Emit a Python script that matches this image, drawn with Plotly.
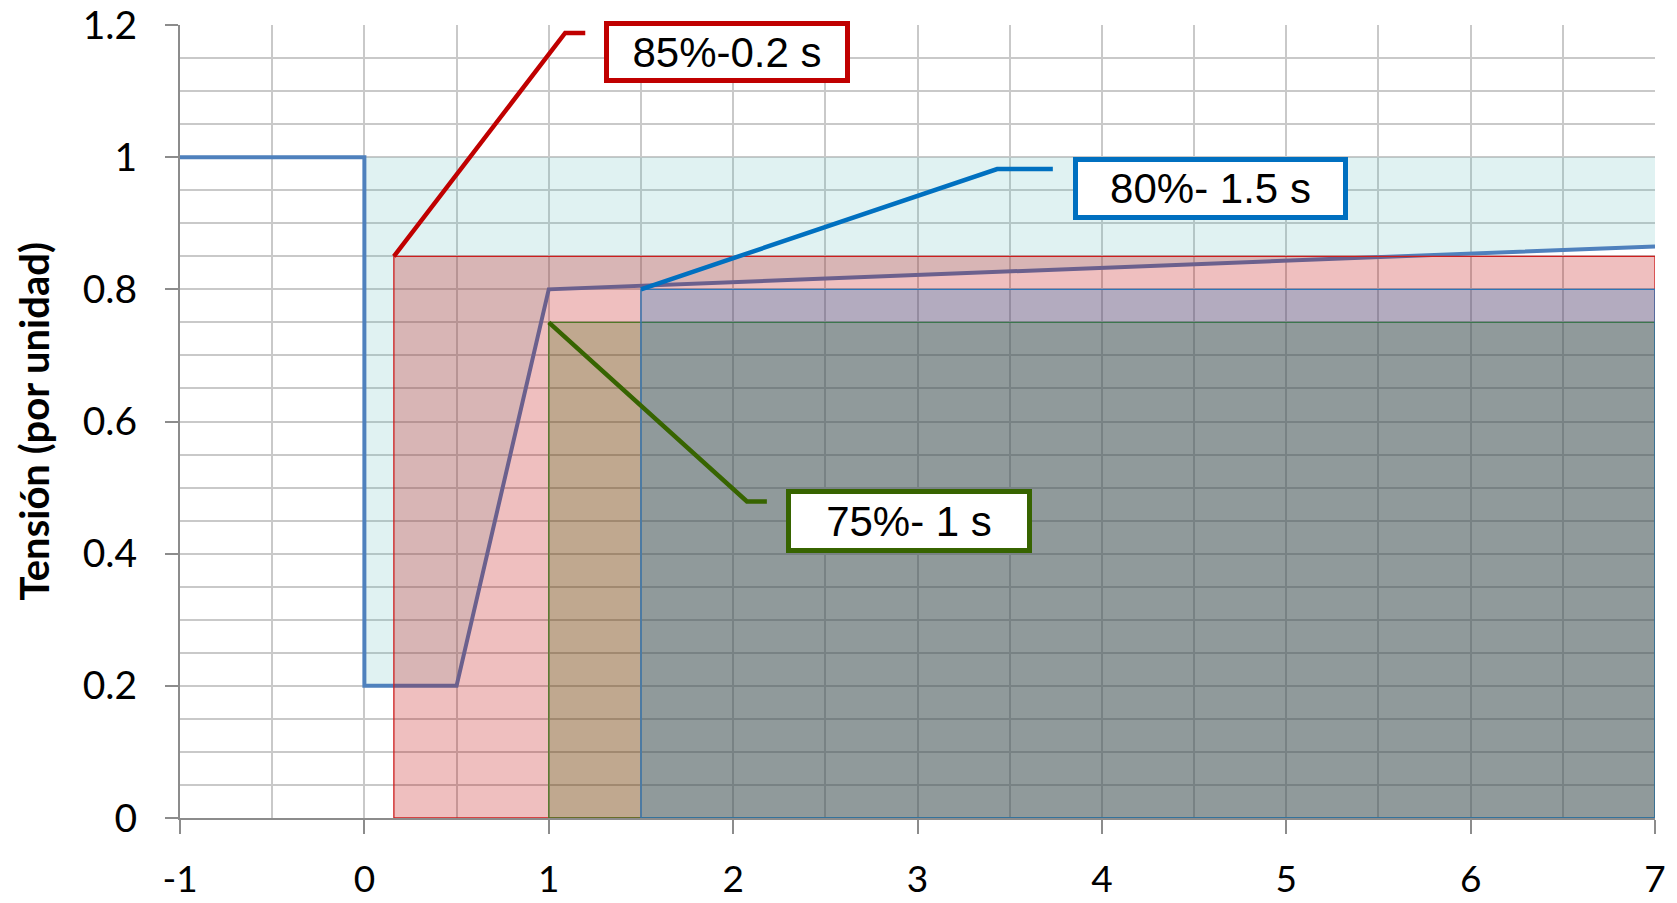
import plotly.graph_objects as go

# ---------------- data ----------------
# Voltage profile (per unit) versus time (s)
t_profile = [-1, 0, 0, 0.5, 1, 7]
v_profile = [1.0, 1.0, 0.2, 0.2, 0.8, 0.865]

# Ride-through requirement blocks: label, voltage level, start time
req_labels = ["85%-0.2 s", "80%- 1.5 s", "75%- 1 s"]
req_levels = [0.85, 0.80, 0.75]
req_start = [0.16, 1.5, 1.0]
t_end = 7

x_tick_vals = [-1, 0, 1, 2, 3, 4, 5, 6, 7]
x_tick_text = ["-1", "0", "1", "2", "3", "4", "5", "6", "7"]
y_tick_vals = [0, 0.2, 0.4, 0.6, 0.8, 1.0, 1.2]
y_tick_text = ["0", "0.2", "0.4", "0.6", "0.8", "1", "1.2"]
y_title = "Tensión (por unidad)"

# ---------------- styling ----------------
rect_fill = ["rgba(192,0,0,0.25)", "rgba(0,112,192,0.25)", "rgba(50,100,0,0.25)"]
rect_edge = ["rgb(205,30,30)", "rgb(46,117,182)", "rgb(80,120,40)"]
callout_color = ["#C00000", "#0070C0", "#376400"]
# callout geometry (elbow, end of leader, box centre, box size)
callout_elbow = [(1.089, 1.188), (3.432, 0.982), (2.075, 0.479)]
callout_end_x = [1.198, 3.734, 2.183]
callout_box = [(1.968, 1.159), (4.591, 0.952), (2.954, 0.449)]
callout_size = [(236, 52), (265, 53), (236, 54)]
draw_order = [0, 2, 1]

grid_col = "#C9C9C9"
axis_col = "#8C8C8C"
y_tick_font = dict(family="Lato", size=39, color="black")
x_tick_font = dict(family="Lato", size=37, color="black")

fig = go.Figure()

# teal area between the profile and 1 pu
fig.add_trace(go.Scatter(
    x=t_profile[1:] + [t_end], y=v_profile[1:] + [v_profile[0]],
    fill="toself", mode="none", fillcolor="rgba(100,190,190,0.2)",
    hoverinfo="skip", showlegend=False))

# voltage profile line
fig.add_trace(go.Scatter(
    x=t_profile, y=v_profile, mode="lines",
    line=dict(color="#4F81BD", width=4), showlegend=False))

# requirement rectangles
for i in draw_order:
    s, lv = req_start[i], req_levels[i]
    fig.add_trace(go.Scatter(
        x=[s, t_end, t_end, s, s], y=[0, 0, lv, lv, 0],
        fill="toself", mode="lines", fillcolor=rect_fill[i],
        line=dict(color=rect_edge[i], width=1.3),
        hoverinfo="skip", showlegend=False))

# leader lines
for i in range(3):
    ex, ey = callout_elbow[i]
    fig.add_trace(go.Scatter(
        x=[req_start[i], ex, callout_end_x[i]],
        y=[req_levels[i], ey, ey], mode="lines",
        line=dict(color=callout_color[i], width=4.5),
        hoverinfo="skip", showlegend=False, cliponaxis=False))

annotations = []
for i in range(3):
    bx, by = callout_box[i]
    w, h = callout_size[i]
    annotations.append(dict(
        x=bx, y=by, xref="x", yref="y", text=req_labels[i], showarrow=False,
        font=dict(family="Liberation Sans, Arial", size=42, color="black"),
        bgcolor="white", bordercolor=callout_color[i], borderwidth=5,
        borderpad=0, width=w, height=h, align="center", valign="middle"))

annotations.append(dict(
    x=-(180 - 34) / 1474.5, y=0.5, xref="paper", yref="paper",
    text="<b>" + y_title + "</b>", textangle=-90, showarrow=False,
    xanchor="center", yanchor="middle",
    font=dict(family="Lato", size=40, color="black")))

fig.update_layout(
    width=1677, height=903,
    margin=dict(l=180, r=22, t=25, b=85, autoexpand=False),
    plot_bgcolor="white", paper_bgcolor="white",
    annotations=annotations,
    xaxis=dict(range=[-1, 7], tickvals=x_tick_vals, ticktext=x_tick_text,
               ticks="outside", ticklen=14, tickwidth=2, tickcolor=axis_col,
               showline=True, linecolor=axis_col, linewidth=2, automargin=False,
               showgrid=True, gridcolor=grid_col, gridwidth=2, zeroline=False,
               minor=dict(dtick=0.5, showgrid=True, gridcolor=grid_col, gridwidth=2, ticks=""),
               tickfont=x_tick_font, ticklabelstandoff=14),
    yaxis=dict(range=[0, 1.2], tickvals=y_tick_vals, ticktext=y_tick_text,
               ticks="outside", ticklen=13, tickwidth=2, tickcolor=axis_col,
               showline=True, linecolor=axis_col, linewidth=2, automargin=False,
               showgrid=True, gridcolor=grid_col, gridwidth=2, zeroline=False,
               minor=dict(dtick=0.05, showgrid=True, gridcolor=grid_col, gridwidth=2, ticks=""),
               tickfont=y_tick_font, ticklabelstandoff=20),
)

fig.write_html("out.html", config={"displayModeBar": False},
               post_script="document.body.style.margin='0';")
